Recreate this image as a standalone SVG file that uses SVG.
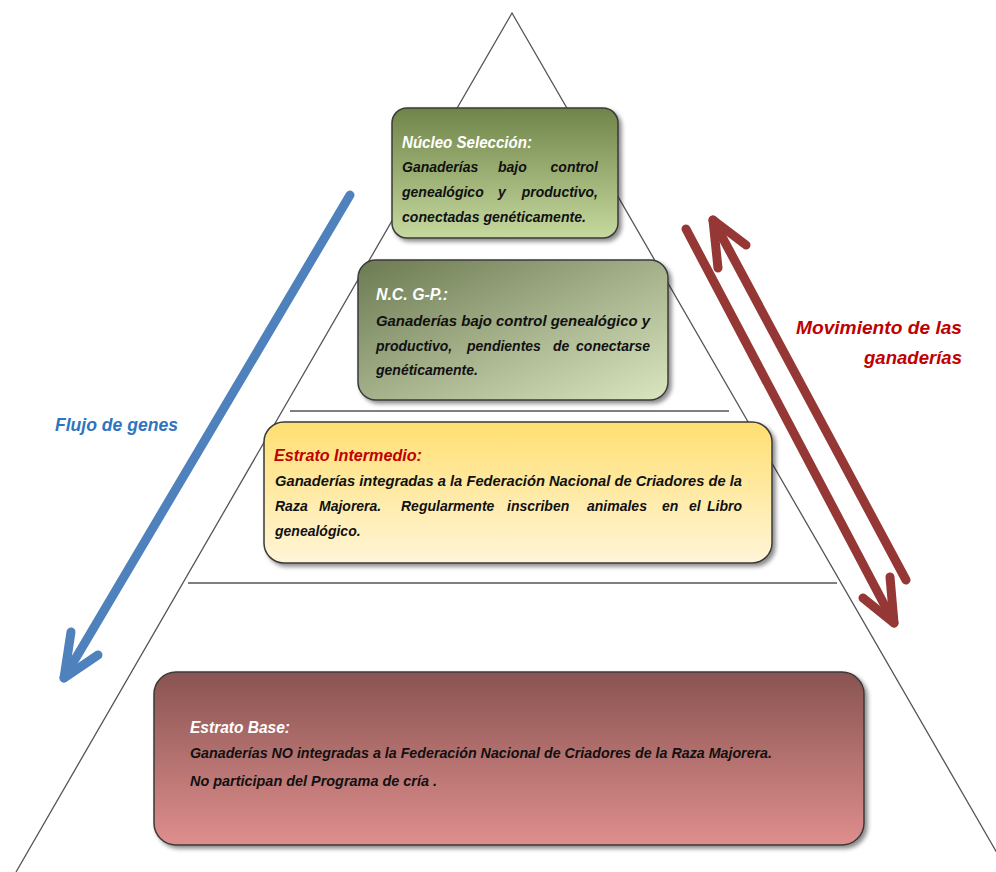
<svg xmlns="http://www.w3.org/2000/svg" width="996" height="872" viewBox="0 0 996 872">
<defs>
<style>
.box{stroke:#3a3a3a;stroke-width:1.5;filter:url(#sh)}
.t{font-family:"Liberation Sans",Arial,sans-serif;font-style:italic;font-weight:bold}
.title{font-size:16px}
.body{font-size:14px;fill:#111}
.small{font-size:14px;fill:#111}
.tri{stroke:#555;stroke-width:1.3;fill:none}
.sep{stroke:#555;stroke-width:1.5}
.ba{stroke:#4f81bd;stroke-width:9;fill:none;stroke-linecap:round;stroke-linejoin:round}
.ra{stroke:#953735;stroke-width:9;fill:none;stroke-linecap:round;stroke-linejoin:round}
</style>
<filter id="sh" x="-10%" y="-10%" width="125%" height="130%">
<feDropShadow dx="3" dy="3" stdDeviation="2" flood-color="#000" flood-opacity="0.45"/>
</filter>
<linearGradient id="g1" x1="0" y1="0" x2="0" y2="1"><stop offset="0" stop-color="#6f8448"/><stop offset="1" stop-color="#c6d99f"/></linearGradient>
<linearGradient id="g2" x1="0" y1="0" x2="1" y2="1"><stop offset="0" stop-color="#6c7a52"/><stop offset="1" stop-color="#dae6c0"/></linearGradient>
<linearGradient id="g3" x1="0" y1="0" x2="0" y2="1"><stop offset="0" stop-color="#ffdf72"/><stop offset="1" stop-color="#fff5d8"/></linearGradient>
<linearGradient id="g4" x1="0" y1="0" x2="0" y2="1"><stop offset="0" stop-color="#895451"/><stop offset="1" stop-color="#de8e8d"/></linearGradient>
</defs>
<rect width="996" height="872" fill="#fff"/>

<g id="pyramid">
<polyline class="tri" points="16,872 512,13 1008,872"/>
<line class="sep" x1="290" y1="411" x2="729" y2="411"/>
<line class="sep" x1="188" y1="583" x2="837" y2="583"/>
</g>

<g id="connectors">
<g id="flujo-arrow">
<line class="ba" x1="350" y1="195" x2="64" y2="678"/>
<polyline class="ba" points="71,632 64,678 98,655"/>
</g>
<g id="movimiento-arrows">
<line class="ra" x1="686" y1="229" x2="894" y2="623"/>
<polyline class="ra" points="863,598 894,623 890,577"/>
<line class="ra" x1="906" y1="580" x2="713" y2="220"/>
<polyline class="ra" points="718,268 713,220 746,245"/>
</g>
</g>

<g id="nucleo">
<rect class="box" x="392" y="108" width="226" height="130" rx="15" fill="url(#g1)"/>
<text class="t title" x="402" y="148" fill="#fff" textLength="130" lengthAdjust="spacingAndGlyphs">Núcleo Selección:</text>
<text class="t body" y="172"><tspan x="402">Ganaderías</tspan><tspan x="498">bajo</tspan><tspan x="598" text-anchor="end">control</tspan></text>
<text class="t body" y="197"><tspan x="402">genealógico</tspan><tspan x="498">y</tspan><tspan x="598" text-anchor="end">productivo,</tspan></text>
<text class="t body" x="402" y="222" textLength="184" lengthAdjust="spacingAndGlyphs">conectadas genéticamente.</text>
</g>

<g id="ncgp">
<rect class="box" x="358" y="260" width="310" height="140" rx="18" fill="url(#g2)"/>
<text class="t title" x="376" y="300" fill="#fff" textLength="72" lengthAdjust="spacingAndGlyphs">N.C. G-P.:</text>
<text class="t body" x="376" y="326" textLength="274" lengthAdjust="spacingAndGlyphs">Ganaderías bajo control genealógico y</text>
<text class="t body" y="351"><tspan x="376">productivo,</tspan><tspan x="467">pendientes</tspan><tspan x="553">de</tspan><tspan x="650" text-anchor="end">conectarse</tspan></text>
<text class="t body" x="376" y="375">genéticamente.</text>
</g>

<g id="intermedio">
<rect class="box" x="264" y="422" width="508" height="141" rx="20" fill="url(#g3)"/>
<text class="t title" x="274" y="461" fill="#c00000" textLength="148" lengthAdjust="spacingAndGlyphs">Estrato Intermedio:</text>
<text class="t body" x="275" y="486" textLength="467" lengthAdjust="spacingAndGlyphs">Ganaderías integradas a la Federación Nacional de Criadores de la</text>
<text class="t body" y="511"><tspan x="275">Raza</tspan><tspan x="319">Majorera.</tspan><tspan x="401">Regularmente</tspan><tspan x="507">inscriben</tspan><tspan x="587">animales</tspan><tspan x="662">en</tspan><tspan x="689">el</tspan><tspan x="742" text-anchor="end">Libro</tspan></text>
<text class="t body" x="275" y="536">genealógico.</text>
</g>

<g id="base">
<rect class="box" x="154" y="672" width="710" height="173" rx="22" fill="url(#g4)"/>
<text class="t title" x="190" y="733" fill="#fff" textLength="100" lengthAdjust="spacingAndGlyphs">Estrato Base:</text>
<text class="t small" x="190" y="758" textLength="582" lengthAdjust="spacingAndGlyphs">Ganaderías NO integradas a la Federación Nacional de Criadores de la Raza Majorera.</text>
<text class="t small" x="190" y="786" textLength="247" lengthAdjust="spacingAndGlyphs">No participan del Programa de cría .</text>
</g>

<g id="labels">
<text class="t" x="55" y="431" font-size="19" fill="#2e75c0" textLength="123" lengthAdjust="spacingAndGlyphs">Flujo de genes</text>
<text class="t" x="962" y="334" font-size="19" fill="#c00000" text-anchor="end" textLength="166" lengthAdjust="spacingAndGlyphs">Movimiento  de las</text>
<text class="t" x="962" y="364" font-size="19" fill="#c00000" text-anchor="end" textLength="98" lengthAdjust="spacingAndGlyphs">ganaderías</text>
</g>
</svg>
